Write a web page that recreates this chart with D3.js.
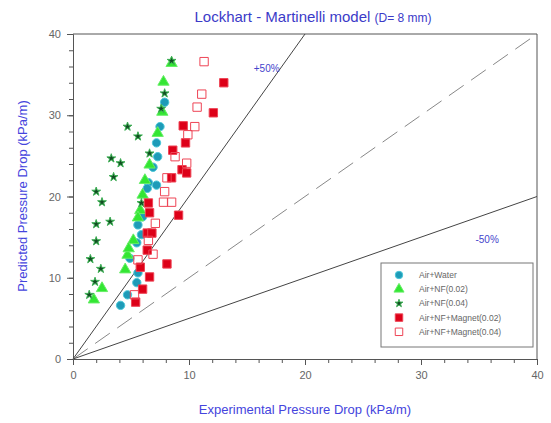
<!DOCTYPE html>
<html><head><meta charset="utf-8">
<script src="https://cdn.jsdelivr.net/npm/d3@7/dist/d3.min.js"></script>
<style>body{margin:0;background:#fff}svg{display:block}</style>
</head><body><svg id="c" width="551" height="423"></svg>
<script>
const xTicks=[0,10,20,30,40];
const yTicks=[0,10,20,30,40];
const airWater=[[7.9,31.6],[7.5,28.6],[7.2,26.6],[7.3,24.9],[6.9,23.6],[6.5,21.7],[7.2,21.4],[6.4,21.0],[5.6,16.5],[5.9,15.3],[5.5,14.3],[4.9,12.4],[5.6,10.6],[5.5,9.4],[4.7,7.9],[4.1,6.6],[6.0,17.5]];
const nf002=[[8.5,36.4],[7.8,34.1],[7.7,30.4],[7.3,27.8],[6.6,23.9],[6.2,22.0],[6.0,20.2],[5.8,18.3],[5.6,17.4],[5.2,14.6],[4.7,12.8],[4.5,11.0],[4.8,13.6],[2.5,8.7],[1.8,7.3]];
const nf004=[[8.5,36.7],[7.9,32.7],[7.6,30.8],[4.7,28.6],[5.6,27.4],[3.3,24.7],[4.1,24.1],[3.5,22.4],[6.6,25.3],[2.0,20.6],[2.5,19.3],[5.9,19.2],[2.0,16.6],[3.2,16.9],[2.0,14.5],[1.5,12.3],[2.4,11.1],[1.9,9.5],[1.4,7.9]];
const mag002=[[13.0,34.0],[12.1,30.3],[9.5,28.7],[9.7,26.6],[8.6,25.7],[9.4,23.3],[9.8,22.9],[8.5,22.3],[6.5,19.2],[6.6,18.0],[9.1,17.7],[6.4,15.5],[6.8,15.5],[6.4,13.4],[8.1,11.7],[5.8,11.3],[6.6,10.1],[6.0,8.6],[5.4,7.0]];
const mag004=[[11.3,36.6],[11.1,32.6],[10.7,31.0],[10.5,28.6],[9.9,27.6],[8.8,24.9],[9.8,24.1],[8.1,22.3],[7.9,20.6],[7.8,19.3],[8.5,19.3],[7.1,16.7],[6.5,14.6],[6.9,12.9],[5.6,12.2],[5.3,7.9]];
const seriesNames=["Air+Water","Air+NF(0.02)","Air+NF(0.04)","Air+NF+Magnet(0.02)","Air+NF+Magnet(0.04)"];

const svg=d3.select("#c");
const x=d3.scaleLinear().domain([0,40]).range([73,537]);
const y=d3.scaleLinear().domain([0,40]).range([359,34]);
const axisCol="#555";

svg.append("line").attr("x1",x(0)).attr("x2",x(40)).attr("y1",y(40)).attr("y2",y(40)).attr("stroke",axisCol);
svg.append("line").attr("x1",x(40)).attr("x2",x(40)).attr("y1",y(40)).attr("y2",y(0)).attr("stroke",axisCol);

const gx=svg.append("g").attr("transform",`translate(0,${y(0)})`)
 .call(d3.axisBottom(x).tickValues(xTicks).tickSize(6).tickSizeOuter(0).tickPadding(6));
const gxm=svg.append("g").attr("transform",`translate(0,${y(0)})`)
 .call(d3.axisBottom(x).tickValues(d3.range(0,41,2)).tickSize(4).tickFormat("").tickSizeOuter(0));
const gy=svg.append("g").attr("transform",`translate(${x(0)},0)`)
 .call(d3.axisLeft(y).tickValues(yTicks).tickSize(6).tickSizeOuter(0).tickPadding(6));
const gym=svg.append("g").attr("transform",`translate(${x(0)},0)`)
 .call(d3.axisLeft(y).tickValues(d3.range(0,41,2)).tickSize(4).tickFormat("").tickSizeOuter(0));
[gx,gxm,gy,gym].forEach(g=>{g.selectAll("path,line").attr("stroke",axisCol);g.selectAll("text").attr("fill","#666").style("font-family","Liberation Sans, Arial, sans-serif").style("font-size","11px");});

const line=d3.line().x(d=>x(d[0])).y(d=>y(d[1]));
svg.append("path").attr("d",line([[0,0],[20,40]])).attr("stroke","#444").attr("fill","none");
svg.append("path").attr("d",line([[0,0],[40,40]])).attr("stroke","#888").attr("stroke-dasharray","18,9").attr("fill","none");
svg.append("path").attr("d",line([[0,0],[40,20]])).attr("stroke","#444").attr("fill","none");

const ff="Liberation Sans, Arial, sans-serif";
svg.append("text").attr("x",x(16.7)).attr("y",y(35.3)).attr("fill","#4444cc").style("font-family",ff).style("font-size","10px").attr("text-anchor","middle").text("+50%");
svg.append("text").attr("x",x(35.7)).attr("y",y(14.3)).attr("fill","#4444cc").style("font-family",ff).style("font-size","10px").attr("text-anchor","middle").text("-50%");

const styles=[
 {data:airWater,type:d3.symbolCircle,size:55,fill:"#1e9bb8",stroke:"#4cc8d8"},
 {data:nf002,type:d3.symbolTriangle,size:55,fill:"#33e633",stroke:"#66ee66"},
 {data:nf004,type:d3.symbolStar,size:24,fill:"#124d22",stroke:"#3cb054"},
 {data:mag002,type:d3.symbolSquare,size:70,fill:"#dd0018",stroke:"#ee4455"},
 {data:mag004,type:d3.symbolSquare,size:70,fill:"none",stroke:"#ee4455"}
];
styles.forEach(s=>{
 svg.append("g").selectAll("path").data(s.data).join("path")
  .attr("transform",d=>`translate(${x(d[0])},${y(d[1])})`)
  .attr("d",d3.symbol().type(s.type).size(s.size))
  .attr("fill",s.fill).attr("stroke",s.stroke).attr("stroke-width",1);
});

const lg=svg.append("g");
lg.append("rect").attr("x",381).attr("y",263).attr("width",152).attr("height",84).attr("fill","#fff").attr("stroke","#777");
styles.forEach((s,i)=>{
 const yy=275+i*14.2;
 lg.append("path").attr("transform",`translate(399,${yy})`).attr("d",d3.symbol().type(s.type).size(s.size*0.8))
  .attr("fill",s.fill).attr("stroke",s.stroke);
 lg.append("text").attr("x",419).attr("y",yy+3).attr("fill","#666").style("font-family",ff).style("font-size","8.5px").text(seriesNames[i]);
});

const t=svg.append("text").attr("x",313).attr("y",22).attr("text-anchor","middle").attr("fill","#3b3bc8").style("font-family",ff);
t.append("tspan").style("font-size","15px").text("Lockhart - Martinelli model ");
t.append("tspan").style("font-size","12px").text("(D= 8 mm)");
svg.append("text").attr("x",305).attr("y",414).attr("text-anchor","middle").attr("fill","#4444dd").style("font-family",ff).style("font-size","13px").text("Experimental Pressure Drop (kPa/m)");
svg.append("text").attr("transform","translate(27,196) rotate(-90)").attr("text-anchor","middle").attr("fill","#4444dd").style("font-family",ff).style("font-size","13px").text("Predicted Pressure Drop (kPa/m)");
</script></body></html>
